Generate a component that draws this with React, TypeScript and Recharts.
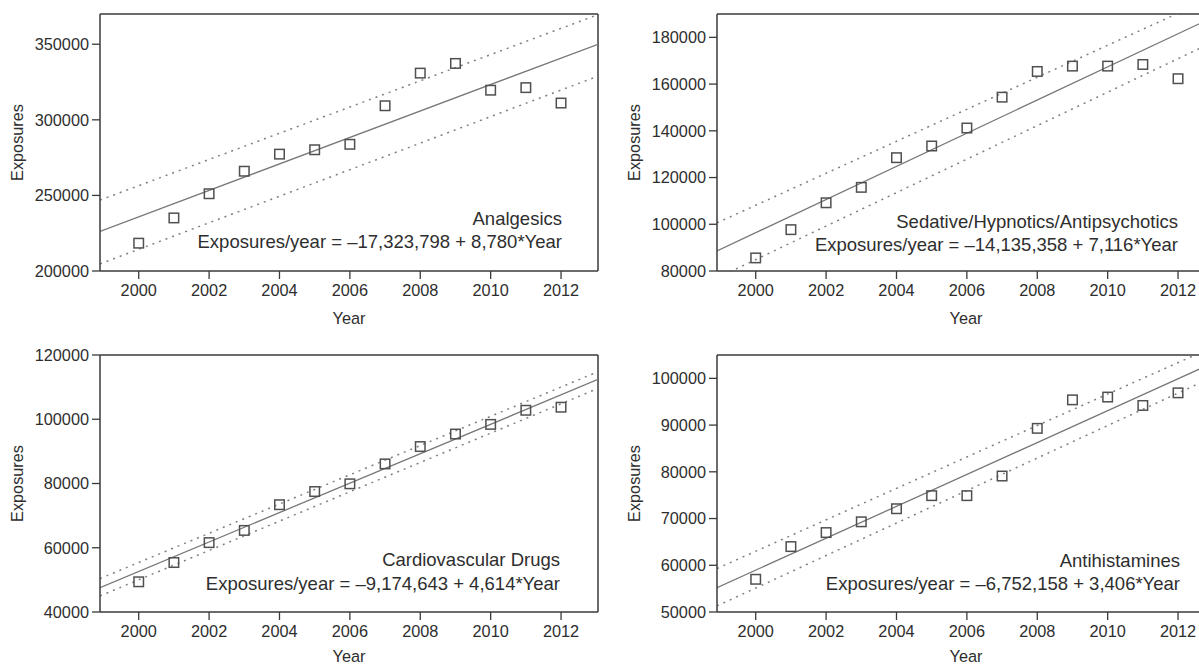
import React from 'react';
import { ScatterChart, Scatter, XAxis, YAxis, ReferenceLine, Customized } from 'recharts';

const FONT = '"Liberation Sans", Arial, Helvetica, sans-serif';
const TEXT = '#2e2e2e';
const AXIS = '#3a3a3a';

const years = [2000, 2001, 2002, 2003, 2004, 2005, 2006, 2007, 2008, 2009, 2010, 2011, 2012];
const xTicks = [2000, 2002, 2004, 2006, 2008, 2010, 2012];
const xDomain = [1998.9, 2013.05];

// Analgesics
const analgesics = [218400, 235100, 251100, 266000, 277300, 280200, 283800, 309300, 330900, 337300, 319600, 321300, 311100];
const analgesicsTicks = [200000, 250000, 300000, 350000];
const analgesicsDomain = [200000, 370000];
const analgesicsFit = [226200, 350000];
const analgesicsUpper = [246900, 369600];
const analgesicsLower = [204700, 328900];

// Sedative/Hypnotics/Antipsychotics
const sedatives = [85600, 97700, 109200, 115800, 128500, 133500, 141200, 154400, 165400, 167700, 167700, 168400, 162300];
const sedativesTicks = [80000, 100000, 120000, 140000, 160000, 180000];
const sedativesDomain = [80000, 190000];
const sedativesFit = [88600, 189000];
const sedativesUpper = [100600, 197500];
const sedativesLower = [77000, 178400];

// Cardiovascular Drugs
const cardio = [49400, 55400, 61600, 65400, 73400, 77500, 79900, 86100, 91500, 95400, 98400, 102800, 103750];
const cardioTicks = [40000, 60000, 80000, 100000, 120000];
const cardioDomain = [40000, 120000];
const cardioFit = [47600, 112400];
const cardioUpper = [50400, 114800];
const cardioLower = [45000, 109600];

// Antihistamines
const antihist = [57000, 64000, 67000, 69300, 72100, 74900, 74900, 79100, 89300, 95400, 96000, 94200, 96900];
const antihistTicks = [50000, 60000, 70000, 80000, 90000, 100000];
const antihistDomain = [50000, 105000];
const antihistFit = [55200, 103500];
const antihistUpper = [59300, 106900];
const antihistLower = [51300, 100500];

const titles = ['Analgesics', 'Sedative/Hypnotics/Antipsychotics', 'Cardiovascular Drugs', 'Antihistamines'];
const equations = [
  'Exposures/year = \u201317,323,798 + 8,780*Year',
  'Exposures/year = \u201314,135,358 + 7,116*Year',
  'Exposures/year = \u20139,174,643 + 4,614*Year',
  'Exposures/year = \u20136,752,158 + 3,406*Year',
];

const Square = (props: any) => {
  const { cx, cy } = props;
  if (cx == null || cy == null) return null;
  return <rect x={cx - 4.75} y={cy - 4.75} width={9.5} height={9.5} fill="none" stroke="#505050" strokeWidth={1.5} />;
};

type PanelProps = {
  left: number;
  top: number;
  values: number[];
  yDomain: number[];
  yTicks: number[];
  fit: number[];
  upper: number[];
  lower: number[];
  title: string;
  equation: string;
  textX: number;
  textY: number[];
  yearOffset: number;
};

function Panel({ left, top, values, yDomain, yTicks, fit, upper, lower, title, equation, textX, textY, yearOffset }: PanelProps) {
  const data = years.map((y, i) => ({ year: y, value: values[i] }));
  const seg = (v: number[]) => [
    { x: xDomain[0], y: v[0] },
    { x: xDomain[1], y: v[1] },
  ];
  return (
    <div style={{ position: 'absolute', left, top }}>
      <ScatterChart
        width={600}
        height={333}
        margin={{ top: 14, right: 2, bottom: 0, left: 0 }}
        style={{ fontFamily: FONT }}
      >
        <XAxis
          type="number"
          dataKey="year"
          domain={xDomain}
          ticks={xTicks}
          allowDataOverflow
          height={62}
          tickSize={8}
          tickMargin={5}
          axisLine={{ stroke: AXIS, strokeWidth: 1.5 }}
          tickLine={{ stroke: AXIS, strokeWidth: 1.3 }}
          tick={{ fill: TEXT, fontSize: 16.3, fontFamily: FONT }}
          label={{ value: 'Year', position: 'insideBottom', offset: yearOffset, fill: TEXT, fontSize: 16.3, fontFamily: FONT }}
        />
        <YAxis
          type="number"
          dataKey="value"
          domain={yDomain}
          ticks={yTicks}
          allowDataOverflow
          width={100}
          tickSize={8}
          tickMargin={3}
          axisLine={{ stroke: AXIS, strokeWidth: 1.5 }}
          tickLine={{ stroke: AXIS, strokeWidth: 1.3 }}
          tick={{ fill: TEXT, fontSize: 16.3, fontFamily: FONT }}
          label={{
            value: 'Exposures',
            angle: -90,
            position: 'insideLeft',
            offset: 17.5,
            fill: TEXT,
            fontSize: 16.3,
            fontFamily: FONT,
            style: { textAnchor: 'middle' },
          }}
        />
        <ReferenceLine y={yDomain[1]} stroke={AXIS} strokeWidth={1.5} />
        <ReferenceLine x={xDomain[1]} stroke={AXIS} strokeWidth={1.5} />
        <ReferenceLine segment={seg(upper)} stroke="#808080" strokeWidth={1.5} strokeDasharray="2 5" ifOverflow="hidden" />
        <ReferenceLine segment={seg(lower)} stroke="#808080" strokeWidth={1.5} strokeDasharray="2 5" ifOverflow="hidden" />
        <ReferenceLine segment={seg(fit)} stroke="#777" strokeWidth={1.3} ifOverflow="hidden" />
        <Scatter data={data} isAnimationActive={false} shape={<Square />} />
        <Customized
          component={() => (
            <g fontFamily={FONT} fontSize={18.5} fill={TEXT}>
              <text x={textX} y={textY[0]} textAnchor="end">{title}</text>
              <text x={textX} y={textY[1]} textAnchor="end">{equation}</text>
            </g>
          )}
        />
      </ScatterChart>
    </div>
  );
}

export default function App() {
  return (
    <div
      style={{
        position: 'fixed',
        left: 0,
        top: 0,
        width: 1199,
        height: 666,
        overflow: 'hidden',
        background: '#fff',
      }}
    >
      <Panel
        left={0}
        top={0}
        values={analgesics}
        yDomain={analgesicsDomain}
        yTicks={analgesicsTicks}
        fit={analgesicsFit}
        upper={analgesicsUpper}
        lower={analgesicsLower}
        title={titles[0]}
        equation={equations[0]}
        textX={562}
        textY={[225, 248]}
        yearOffset={9}
      />
      <Panel
        left={617}
        top={0}
        values={sedatives}
        yDomain={sedativesDomain}
        yTicks={sedativesTicks}
        fit={sedativesFit}
        upper={sedativesUpper}
        lower={sedativesLower}
        title={titles[1]}
        equation={equations[1]}
        textX={561}
        textY={[228, 251]}
        yearOffset={9}
      />
      <Panel
        left={0}
        top={341}
        values={cardio}
        yDomain={cardioDomain}
        yTicks={cardioTicks}
        fit={cardioFit}
        upper={cardioUpper}
        lower={cardioLower}
        title={titles[2]}
        equation={equations[2]}
        textX={560}
        textY={[225, 249]}
        yearOffset={12}
      />
      <Panel
        left={617}
        top={341}
        values={antihist}
        yDomain={antihistDomain}
        yTicks={antihistTicks}
        fit={antihistFit}
        upper={antihistUpper}
        lower={antihistLower}
        title={titles[3]}
        equation={equations[3]}
        textX={563}
        textY={[226, 249]}
        yearOffset={12}
      />
    </div>
  );
}
